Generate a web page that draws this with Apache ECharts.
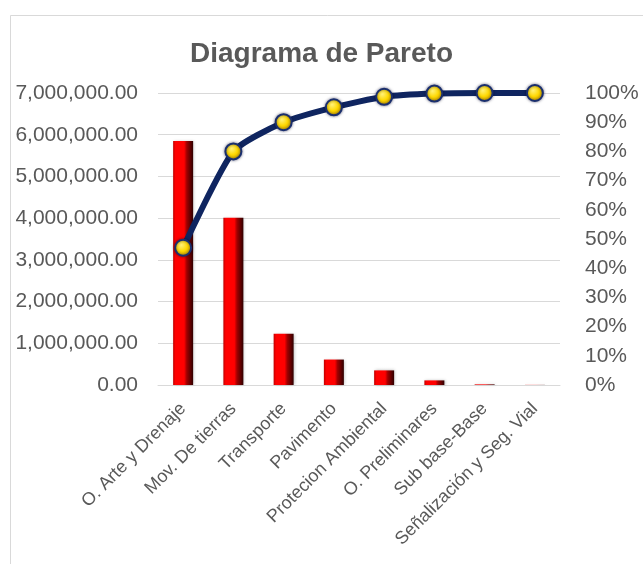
<!DOCTYPE html>
<html>
<head>
<meta charset="utf-8">
<script src="https://cdn.jsdelivr.net/npm/echarts@6/dist/echarts.min.js"></script>
<style>
  html, body { margin: 0; padding: 0; background: #fff; }
  #chart { width: 643px; height: 564px; }
</style>
</head>
<body>
<div id="chart"></div>
<script>
// categorías del Pareto
const categorias = ['O. Arte y Drenaje', 'Mov. De tierras', 'Transporte', 'Pavimento',
  'Protecion Ambiental', 'O. Preliminares', 'Sub base-Base', 'Señalización y Seg. Vial']
// monto por partida
const montos = [5850000, 4010000, 1230000, 610000, 350000, 110000, 15000, 3000]
// porcentaje acumulado
const acumulado = [0.47, 0.80, 0.90, 0.951, 0.987, 0.998, 1.0, 1.0]

const textColor = '#595959'
const gridColor = '#d9d9d9'

let myChart = echarts.init(document.getElementById('chart'))
myChart.setOption({
  backgroundColor: '#fff',
  animation: false,
  graphic: [
    {
      type: 'rect',
      shape: { x: 10.5, y: 15.5, width: 700, height: 600 },
      style: { fill: 'none', stroke: gridColor, lineWidth: 1 },
      silent: true
    }
  ],
  title: {
    text: 'Diagrama de Pareto',
    left: 'center',
    top: 35,
    textStyle: {
      fontFamily: 'Liberation Sans, Arial',
      fontSize: 28,
      fontWeight: 'bold',
      color: textColor
    }
  },
  grid: {
    left: 158,
    right: 83,
    top: 93,
    bottom: 179
  },
  xAxis: {
    type: 'category',
    data: categorias,
    axisTick: { show: false },
    axisLine: { lineStyle: { color: gridColor, width: 1 } },
    axisLabel: {
      rotate: 45,
      interval: 0,
      margin: 21,
      color: textColor,
      fontFamily: 'Liberation Sans, Arial',
      fontSize: 18
    }
  },
  yAxis: [
    {
      type: 'value',
      min: 0,
      max: 7000000,
      interval: 1000000,
      axisLine: { show: false },
      axisTick: { show: false },
      splitLine: { lineStyle: { color: gridColor, width: 1 } },
      axisLabel: {
        margin: 20,
        color: textColor,
        fontFamily: 'Liberation Sans, Arial',
        fontSize: 21,
        formatter: v => v.toLocaleString('en-US', { minimumFractionDigits: 2, maximumFractionDigits: 2 })
      }
    },
    {
      type: 'value',
      min: 0,
      max: 1,
      interval: 0.1,
      axisLine: { show: false },
      axisTick: { show: false },
      splitLine: { show: false },
      axisLabel: {
        margin: 25,
        color: textColor,
        fontFamily: 'Liberation Sans, Arial',
        fontSize: 21,
        formatter: v => Math.round(v * 100) + '%'
      }
    }
  ],
  series: [
    {
      name: 'Monto',
      type: 'bar',
      data: montos,
      barWidth: 20,
      yAxisIndex: 0,
      itemStyle: {
        color: new echarts.graphic.LinearGradient(0, 0, 1, 0, [
          { offset: 0, color: '#c00000' },
          { offset: 0.12, color: '#ff0000' },
          { offset: 0.55, color: '#ff0000' },
          { offset: 0.68, color: '#a00000' },
          { offset: 1, color: '#300000' }
        ]),
        shadowColor: 'rgba(0,0,0,0.25)',
        shadowBlur: 3,
        shadowOffsetX: 1
      }
    },
    {
      name: 'Acumulado',
      type: 'line',
      data: acumulado,
      yAxisIndex: 1,
      smooth: 0.2,
      symbol: 'circle',
      symbolSize: 16,
      z: 5,
      lineStyle: {
        color: '#0f2560',
        width: 6
      },
      itemStyle: {
        color: new echarts.graphic.RadialGradient(0.4, 0.35, 0.7, [
          { offset: 0, color: '#fff27a' },
          { offset: 0.5, color: '#ffd800' },
          { offset: 1, color: '#c89800' }
        ]),
        borderColor: '#1a2f6e',
        borderWidth: 2,
        shadowColor: 'rgba(0,0,40,0.5)',
        shadowBlur: 3
      }
    }
  ]
})
</script>
</body>
</html>
